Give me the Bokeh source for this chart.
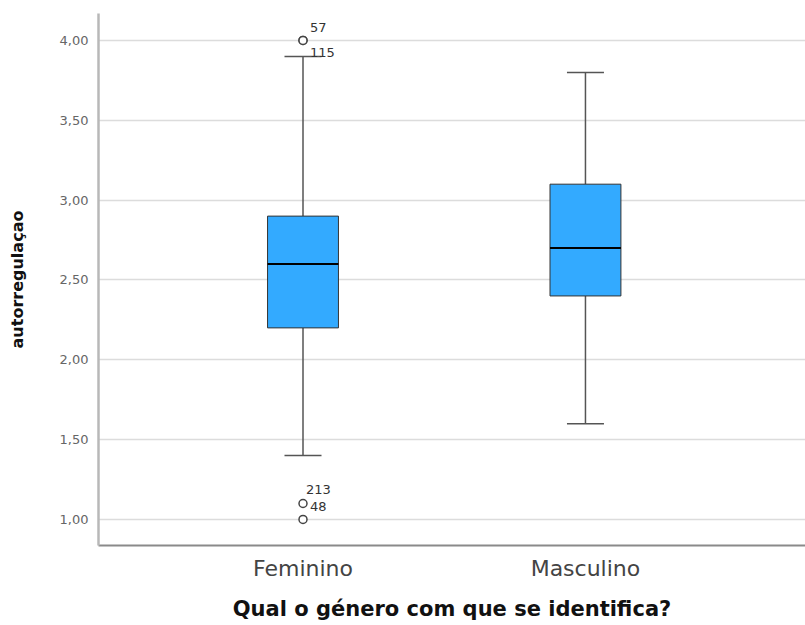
from bokeh.plotting import figure
from bokeh.models import FixedTicker, ColumnDataSource
from bokeh.core.properties import value
from bokeh.embed import file_html
from bokeh.resources import INLINE

# ---- data ----
categories = ["Feminino", "Masculino"]
positions = [1, 2]
q1 = [2.20, 2.40]
median = [2.60, 2.70]
q3 = [2.90, 3.10]
lower = [1.40, 1.60]
upper = [3.90, 3.80]

outlier_pos = [1, 1, 1, 1]
outlier_val = [4.00, 4.00, 1.10, 1.00]
outlier_ids = ["57", "115", "213", "48"]

y_ticks = [1.0, 1.5, 2.0, 2.5, 3.0, 3.5, 4.0]
y_tick_labels = ["1,00", "1,50", "2,00", "2,50", "3,00", "3,50", "4,00"]
y_title = "autorregulaçao"
x_title = "Qual o género com que se identifica?"

# ---- styling ----
FONT = "DejaVu Sans"
BOX_W = 0.251
CAP_W = 0.131
label_dx = [7, 7, 3, 7]
label_dy = [-13, 12, -14, -13]

p = figure(width=805, height=625, output_backend="svg", toolbar_location=None,
           x_range=(0.276, 2.779), y_range=(0.837, 4.169),
           min_border_left=98, min_border_right=0, min_border_top=13,
           min_border_bottom=80)
p.outline_line_color = None
p.background_fill_color = "white"
p.border_fill_color = "white"

# grid
p.xgrid.grid_line_color = None
p.ygrid.grid_line_color = "#dcdcdc"
p.ygrid.grid_line_width = 1.5
p.ygrid.ticker = FixedTicker(ticks=y_ticks)

# axes
p.yaxis.ticker = FixedTicker(ticks=y_ticks)
p.yaxis.major_label_overrides = {t: l for t, l in zip(y_ticks, y_tick_labels)}
p.yaxis.major_tick_out = 0
p.yaxis.major_tick_in = 0
p.yaxis.minor_tick_out = 0
p.yaxis.minor_tick_in = 0
p.yaxis.major_label_standoff = 10
p.yaxis.major_label_text_font = FONT
p.yaxis.major_label_text_font_size = "13px"
p.yaxis.major_label_text_color = "#666666"
p.yaxis.axis_line_color = "#b8b8b8"
p.yaxis.axis_line_width = 2.5
p.yaxis.axis_label = y_title
p.yaxis.axis_label_text_font = FONT
p.yaxis.axis_label_text_font_style = "bold"
p.yaxis.axis_label_text_font_size = "16px"
p.yaxis.axis_label_text_color = "#111111"
p.yaxis.axis_label_standoff = 30

p.xaxis.ticker = FixedTicker(ticks=positions)
p.xaxis.major_label_overrides = {pos: c for pos, c in zip(positions, categories)}
p.xaxis.major_tick_out = 0
p.xaxis.major_tick_in = 0
p.xaxis.minor_tick_out = 0
p.xaxis.minor_tick_in = 0
p.xaxis.major_label_standoff = 10
p.xaxis.major_label_text_font = FONT
p.xaxis.major_label_text_font_size = "22px"
p.xaxis.major_label_text_color = "#444444"
p.xaxis.axis_line_color = "#8a8a8a"
p.xaxis.axis_line_width = 2
p.xaxis.axis_label = x_title
p.xaxis.axis_label_text_font = FONT
p.xaxis.axis_label_text_font_style = "bold"
p.xaxis.axis_label_text_font_size = "21px"
p.xaxis.axis_label_text_color = "#111111"
p.xaxis.axis_label_standoff = 13

src = ColumnDataSource(dict(
    x=positions, q1=q1, med=median, q3=q3, lo=lower, up=upper,
    xl=[x - BOX_W / 2 for x in positions], xr=[x + BOX_W / 2 for x in positions],
    cl=[x - CAP_W / 2 for x in positions], cr=[x + CAP_W / 2 for x in positions],
))

# whiskers
p.segment(x0="x", y0="q3", x1="x", y1="up", source=src, line_color="#555555", line_width=1.5)
p.segment(x0="x", y0="q1", x1="x", y1="lo", source=src, line_color="#555555", line_width=1.5)
p.segment(x0="cl", y0="up", x1="cr", y1="up", source=src, line_color="#555555", line_width=1.5)
p.segment(x0="cl", y0="lo", x1="cr", y1="lo", source=src, line_color="#555555", line_width=1.5)

# boxes
p.vbar(x="x", width=BOX_W, top="q3", bottom="q1", source=src,
       fill_color="#33aaff", line_color="#333333", line_width=1)
p.segment(x0="xl", y0="med", x1="xr", y1="med", source=src, line_color="#000000", line_width=2)

# outliers
osrc = ColumnDataSource(dict(x=outlier_pos, y=outlier_val, ids=outlier_ids,
                             dx=label_dx, dy=label_dy))
p.scatter(x="x", y="y", source=osrc, marker="circle", size=8,
          fill_color="white", line_color="#444444", line_width=1.5)
p.text(x="x", y="y", text="ids", source=osrc, x_offset="dx", y_offset="dy",
       text_font=value(FONT), text_font_size="13px", text_color="#333333",
       text_baseline="middle", text_align="left")

open("out.html", "w").write(file_html(p, INLINE))
